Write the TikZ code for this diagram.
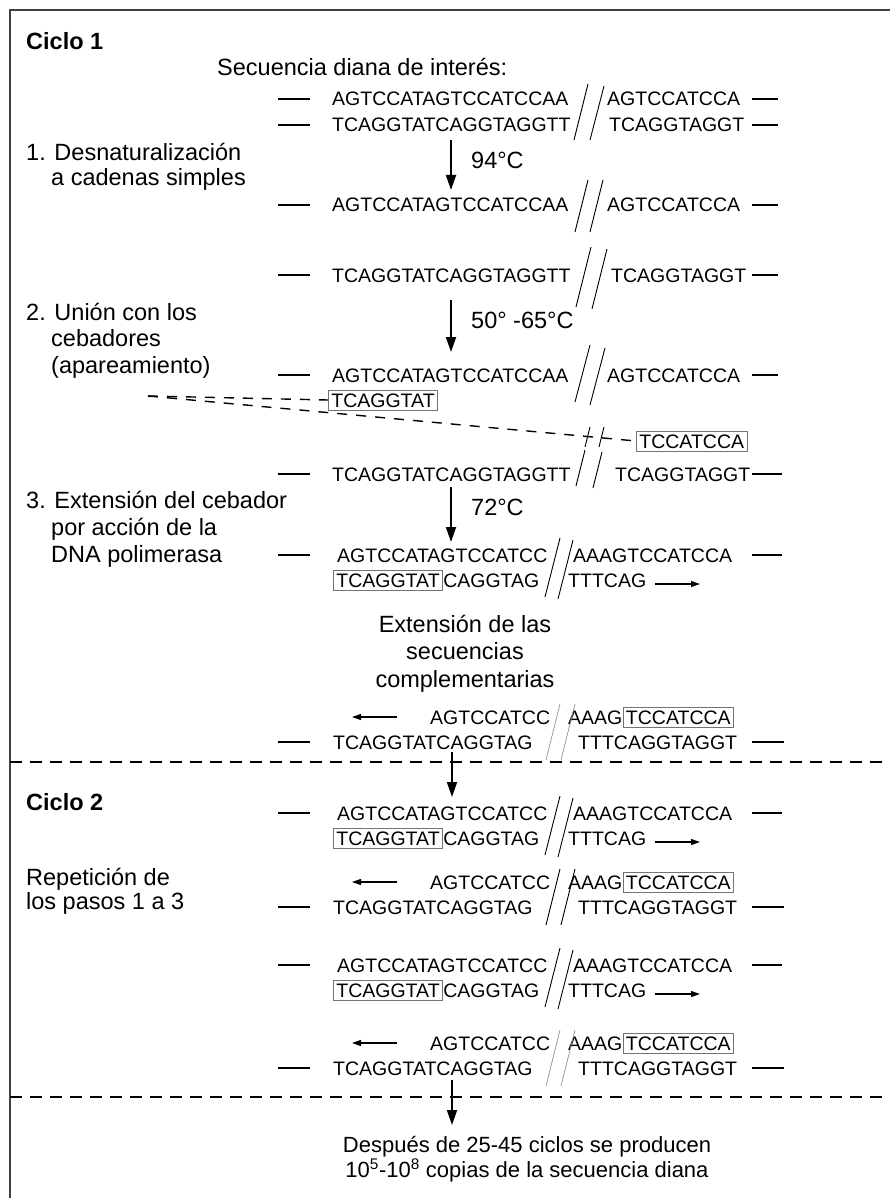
\documentclass[tikz,border=0pt]{standalone}
\usepackage{fontspec}
\setmainfont{Liberation Sans}
\usetikzlibrary{positioning,arrows.meta}
\begin{document}
\begin{tikzpicture}[x=1pt,y=-1pt,
  seq/.style={inner sep=0pt, anchor=west, text height=14pt, text depth=0pt, font=\fontsize{19.5}{22}\selectfont},
  lbl/.style={inner sep=0pt, anchor=base west, align=left, font=\fontsize{23.5}{26.5}\selectfont},
  primer/.style={seq, draw=black!55, line width=0.8pt, inner sep=3pt},
  strandend/.style={line width=2.2pt},
  brk/.style={line width=0.9pt},
  brkgray/.style={line width=0.7pt, black!45},
  stepar/.style={line width=1.8pt, -{Triangle[length=15pt,width=10pt]}},
  extar/.style={line width=1.1pt, -{Triangle[length=9pt,width=6pt]}},
  guide/.style={line width=1.4pt, dash pattern=on 10pt off 9pt},
  sep/.style={line width=2pt, dash pattern=on 12pt off 8pt},
  frame/.style={line width=1.5pt, black!75}]
\useasboundingbox (0,0) rectangle (890,1198);
\draw[frame] (890,10) -- (10,10) -- (10,1198);
% ciclo 1
\node[lbl, font=\fontsize{23.5}{26.5}\selectfont\bfseries] (ciclo1) at (26,50) {Ciclo 1};
\node[lbl] (diana) at (217,76) {Secuencia diana de interés:};
% doble cadena inicial
\draw[strandend] (278,99) -- (310,99);
\node[seq] (r1a) at (332,99) {AGTCCATAGTCCATCCAA};
\node[seq] (r1b) at (607,99) {AGTCCATCCA};
\draw[strandend] (752,99) -- (778,99);
\draw[strandend] (278,125) -- (310,125);
\node[seq] (r1c) at (332,125) {TCAGGTATCAGGTAGGTT};
\node[seq] (r1d) at (609,125) {TCAGGTAGGT};
\draw[strandend] (752,125) -- (778,125);
\draw[brk] (574,140) -- (588,84);
\draw[brk] (590,140) -- (604,86);
% paso 1
\node[lbl, font=\fontsize{23.5}{25}\selectfont] (paso1) at (26,186) {1. Desnaturalización\\\hspace*{25pt}a cadenas simples};
\coordinate (a1s) at (451,140);
\coordinate (a1e) at (451,190);
\draw[stepar] (a1s) -- (a1e);
\node[lbl] (t1) at (471,169) {94°C};
% cadenas simples
\draw[strandend] (278,205) -- (310,205);
\node[seq] (r2a) at (332,205) {AGTCCATAGTCCATCCAA};
\node[seq] (r2b) at (607,205) {AGTCCATCCA};
\draw[strandend] (752,205) -- (778,205);
\draw[brk] (575,232) -- (588,180);
\draw[brk] (590,232) -- (603,180);
\draw[strandend] (278,275) -- (310,275);
\node[seq] (r3a) at (332,275) {TCAGGTATCAGGTAGGTT};
\node[seq] (r3b) at (611,275) {TCAGGTAGGT};
\draw[strandend] (752,275) -- (778,275);
\draw[brk] (576,307) -- (591,247);
\draw[brk] (592,309) -- (607,249);
% paso 2
\node[lbl] (paso2) at (26,373) {2. Unión con los\\\hspace*{25pt}cebadores\\\hspace*{25pt}(apareamiento)};
\coordinate (a2s) at (451,300);
\coordinate (a2e) at (451,352);
\draw[stepar] (a2s) -- (a2e);
\node[lbl] (t2) at (471,328) {50° -65°C};
\draw[strandend] (278,375) -- (310,375);
\node[seq] (r4a) at (332,375) {AGTCCATAGTCCATCCAA};
\node[seq] (r4b) at (607,375) {AGTCCATCCA};
\draw[strandend] (752,375) -- (778,375);
\draw[brk] (575,402) -- (590,345);
\draw[brk] (590,405) -- (605,348);
\node[primer] (pr1) at (328,400) {TCAGGTAT};
\node[primer] (pr2) at (636,441) {TCCATCCA};
\coordinate (pfrom) at (148,396);
\draw[guide] (pfrom) -- (pr1.west);
\draw[guide] (pfrom) -- (pr2.west);
\draw[brk] (585,447) -- (590,427);
\draw[brk] (599,447) -- (604,427);
\draw[strandend] (278,474) -- (310,474);
\node[seq] (r5a) at (332,474) {TCAGGTATCAGGTAGGTT};
\node[seq] (r5b) at (615,474) {TCAGGTAGGT};
\draw[strandend] (752,474) -- (782,474);
\draw[brk] (576,486) -- (585,450);
\draw[brk] (593,488) -- (602,452);
% paso 3
\node[lbl, font=\fontsize{23.5}{27}\selectfont] (paso3) at (26,562) {3. Extensión del cebador\\\hspace*{25pt}por acción de la\\\hspace*{25pt}DNA polimerasa};
\coordinate (a3s) at (451,487);
\coordinate (a3e) at (451,542);
\draw[stepar] (a3s) -- (a3e);
\node[lbl] (t3) at (471,515) {72°C};
\draw[strandend] (278,555) -- (310,555);
\node[seq] (r6a) at (337,555) {AGTCCATAGTCCATCC};
\node[seq] (r6b) at (573,555) {AAAGTCCATCCA};
\draw[strandend] (752,555) -- (782,555);
\node[primer] (r6p) at (333,580) {TCAGGTAT};
\node[seq, right=0pt of r6p] (r6c) {CAGGTAG};
\node[seq] (r6d) at (568,580) {TTTCAG};
\coordinate (r6s) at (655,584);
\coordinate (r6e) at (700,584);
\draw[extar] (r6s) -- (r6e);
\draw[brk] (545,597) -- (560,538);
\draw[brk] (558,599) -- (573,540);
\node[lbl, align=center, anchor=base, font=\fontsize{23.5}{27.5}\selectfont] (ext) at (465,687) {Extensión de las\\secuencias\\complementarias};
\coordinate (r7s) at (397,717);
\coordinate (r7e) at (352,717);
\draw[extar] (r7s) -- (r7e);
\node[seq] (r7a) at (430,717) {AGTCCATCC};
\node[seq] (r7b) at (568,717) {AAAG};
\node[primer, right=0pt of r7b] (r7p) {TCCATCCA};
\draw[strandend] (278,742) -- (310,742);
\node[seq] (r7c) at (333,742) {TCAGGTATCAGGTAG};
\node[seq] (r7d) at (578,742) {TTTCAGGTAGGT};
\draw[strandend] (752,742) -- (784,742);
\draw[brkgray] (546,760) -- (560,704);
\draw[brkgray] (561,760) -- (575,704);
\draw[sep] (10,762) -- (890,762);
\coordinate (a4s) at (452,752);
\coordinate (a4e) at (452,797);
\draw[stepar] (a4s) -- (a4e);
% ciclo 2
\node[lbl, font=\fontsize{23.5}{26.5}\selectfont\bfseries] (ciclo2) at (26,810) {Ciclo 2};
\node[lbl, font=\fontsize{23.5}{24}\selectfont] (repite) at (26,909) {Repetición de\\los pasos 1 a 3};
\draw[strandend] (278,813) -- (310,813);
\node[seq] (r8a) at (337,813) {AGTCCATAGTCCATCC};
\node[seq] (r8b) at (573,813) {AAAGTCCATCCA};
\draw[strandend] (752,813) -- (782,813);
\node[primer] (r8p) at (333,838) {TCAGGTAT};
\node[seq, right=0pt of r8p] (r8c) {CAGGTAG};
\node[seq] (r8d) at (568,838) {TTTCAG};
\coordinate (r8s) at (655,842);
\coordinate (r8e) at (700,842);
\draw[extar] (r8s) -- (r8e);
\draw[brk] (545,855) -- (560,796);
\draw[brk] (558,857) -- (573,798);
\coordinate (r9s) at (397,882);
\coordinate (r9e) at (352,882);
\draw[extar] (r9s) -- (r9e);
\node[seq] (r9a) at (430,882) {AGTCCATCC};
\node[seq] (r9b) at (568,882) {AAAG};
\node[primer, right=0pt of r9b] (r9p) {TCCATCCA};
\draw[strandend] (278,907) -- (310,907);
\node[seq] (r9c) at (333,907) {TCAGGTATCAGGTAG};
\node[seq] (r9d) at (578,907) {TTTCAGGTAGGT};
\draw[strandend] (752,907) -- (784,907);
\draw[brk] (546,925) -- (560,869);
\draw[brk] (561,925) -- (575,869);
\draw[strandend] (278,965) -- (310,965);
\node[seq] (r10a) at (337,965) {AGTCCATAGTCCATCC};
\node[seq] (r10b) at (573,965) {AAAGTCCATCCA};
\draw[strandend] (752,965) -- (782,965);
\node[primer] (r10p) at (333,990) {TCAGGTAT};
\node[seq, right=0pt of r10p] (r10c) {CAGGTAG};
\node[seq] (r10d) at (568,990) {TTTCAG};
\coordinate (r10s) at (655,994);
\coordinate (r10e) at (700,994);
\draw[extar] (r10s) -- (r10e);
\draw[brk] (545,1007) -- (560,948);
\draw[brk] (558,1009) -- (573,950);
\coordinate (r11s) at (397,1043);
\coordinate (r11e) at (352,1043);
\draw[extar] (r11s) -- (r11e);
\node[seq] (r11a) at (430,1043) {AGTCCATCC};
\node[seq] (r11b) at (568,1043) {AAAG};
\node[primer, right=0pt of r11b] (r11p) {TCCATCCA};
\draw[strandend] (278,1068) -- (310,1068);
\node[seq] (r11c) at (333,1068) {TCAGGTATCAGGTAG};
\node[seq] (r11d) at (578,1068) {TTTCAGGTAGGT};
\draw[strandend] (752,1068) -- (784,1068);
\draw[brkgray] (546,1086) -- (560,1030);
\draw[brkgray] (561,1086) -- (575,1030);
\draw[sep] (10,1097) -- (890,1097);
\coordinate (a5s) at (452,1080);
\coordinate (a5e) at (452,1125);
\draw[stepar] (a5s) -- (a5e);
% resultado
\node[lbl, align=center, anchor=base, font=\fontsize{22}{25}\selectfont] (final) at (527,1177) {Después de 25-45 ciclos se producen\\10\textsuperscript{5}-10\textsuperscript{8} copias de la secuencia diana};
\end{tikzpicture}
\end{document}
